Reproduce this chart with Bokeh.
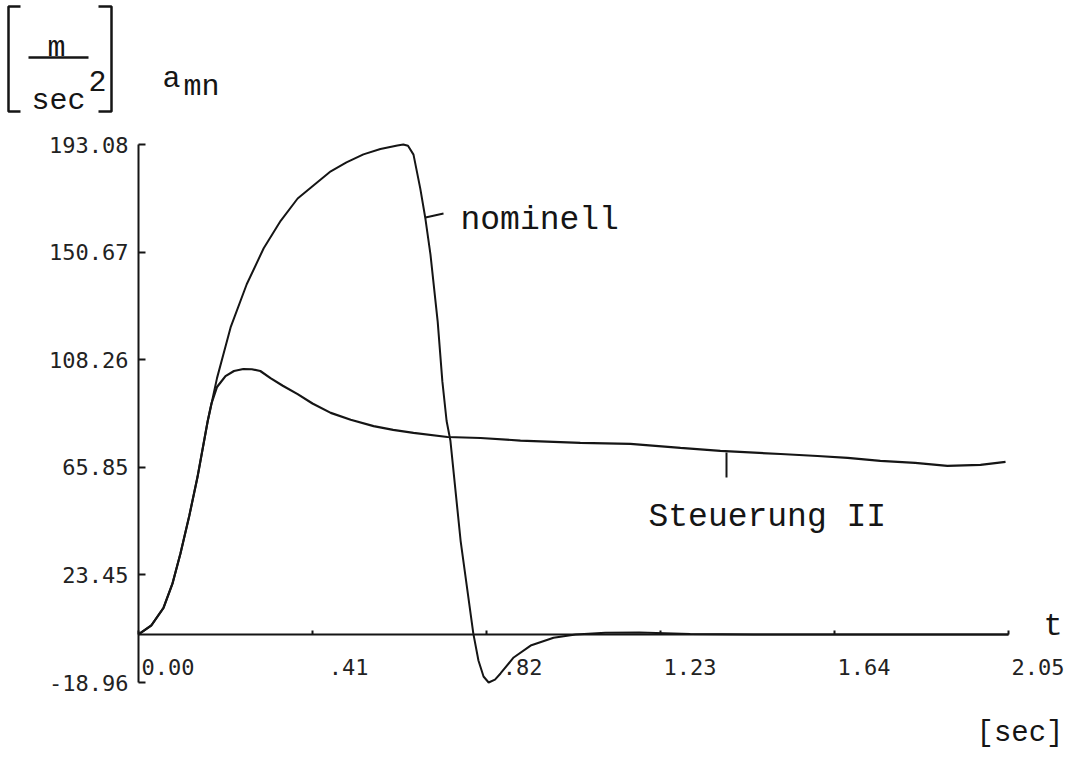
from bokeh.plotting import figure
from bokeh.models import Range1d, FixedTicker, Label, PrintfTickFormatter
from bokeh.embed import file_html
from bokeh.resources import INLINE

# ---------------- data ----------------
t_nom = [0.0, 0.03, 0.059, 0.08, 0.099, 0.12, 0.139, 0.163, 0.185, 0.205,
         0.217, 0.255, 0.295, 0.335, 0.375, 0.415, 0.453, 0.49, 0.53, 0.57,
         0.61, 0.624, 0.635, 0.648, 0.664, 0.676, 0.688, 0.705, 0.716, 0.726,
         0.735, 0.759, 0.789, 0.801, 0.813, 0.825, 0.84, 0.853, 0.884, 0.924,
         0.978, 1.03, 1.10, 1.18, 1.30, 1.45, 2.05]
a_nom = [0.0, 3.5, 10.5, 20.0, 32.0, 47.0, 62.0, 84.0, 101.0, 113.5,
         121.0, 138.0, 152.2, 163.0, 171.8, 177.3, 182.5, 186.0, 189.2, 191.3,
         192.7, 193.08, 192.6, 189.1, 175.7, 163.9, 149.7, 123.3, 99.7, 84.1,
         76.3, 36.9, 0.3, -10.3, -16.6, -18.96, -17.8, -15.4, -9.1, -4.4,
         -1.3, 0.0, 0.6, 0.7, 0.2, 0.0, 0.0]

t_st = [0.0, 0.03, 0.059, 0.08, 0.099, 0.12, 0.139, 0.163, 0.172, 0.185,
        0.205, 0.225, 0.247, 0.267, 0.287, 0.311, 0.34, 0.375, 0.41, 0.453,
        0.50, 0.554, 0.60, 0.648, 0.728, 0.806, 0.90, 1.041, 1.159, 1.277,
        1.371, 1.513, 1.60, 1.671, 1.748, 1.83, 1.906, 1.984, 2.043]
a_st = [0.0, 3.5, 10.5, 20.0, 32.0, 47.0, 62.0, 84.0, 91.0, 97.5,
        101.8, 103.8, 104.6, 104.5, 103.8, 101.0, 98.0, 94.7, 91.0, 87.3,
        84.6, 82.1, 80.6, 79.4, 77.8, 77.4, 76.4, 75.5, 75.1, 73.5,
        72.3, 71.1, 70.3, 69.6, 68.4, 67.6, 66.4, 66.8, 68.0]

x_ticks = [0.0, 0.41, 0.82, 1.23, 1.64, 2.05]
x_tick_labels = ["0.00", ".41", ".82", "1.23", "1.64", "2.05"]
y_ticks = [-18.96, 23.45, 65.85, 108.26, 150.67, 193.08]

X0, X1 = 0.0, 2.05
Y0, Y1 = -18.96, 193.08

# ---------------- layout (pixels) ----------------
W, H = 1080, 757
AX_L, AX_R, AX_T, AX_B = 138, 1008, 144, 682   # where the axes' ends sit
sx = (AX_R - AX_L) / (X1 - X0)
sy = (AX_B - AX_T) / (Y1 - Y0)


def dx(px):
    """pixel x -> data x"""
    return X0 + (px - AX_L) / sx


def dy(py):
    """pixel y -> data y"""
    return Y0 + (AX_B - py) / sy


INK = "#151515"
TYPE_FONT = "Liberation Mono"
TICK_FONT = "DejaVu Sans Mono"

p = figure(width=W, height=H,
           x_range=Range1d(dx(0), dx(W)), y_range=Range1d(dy(H), dy(0)),
           output_backend="svg", toolbar_location=None, min_border=0)
p.outline_line_color = None
p.grid.visible = False
p.background_fill_color = "white"
p.border_fill_color = "white"

# y axis at t = 0
ya = p.yaxis[0]
ya.fixed_location = 0
ya.bounds = (Y0, Y1)
ya.ticker = FixedTicker(ticks=y_ticks)
ya.formatter = PrintfTickFormatter(format="%.2f")
ya.axis_line_width = 2
ya.axis_line_color = INK
ya.major_tick_in = 7
ya.major_tick_out = 0
ya.major_tick_line_width = 2
ya.major_tick_line_color = INK
ya.minor_tick_line_color = None
ya.major_label_standoff = 10
ya.major_label_text_font = TICK_FONT
ya.major_label_text_font_size = "22px"
ya.major_label_text_color = "#222222"

# x axis at a = 0
xa = p.xaxis[0]
xa.fixed_location = 0
xa.bounds = (X0, X1)
xa.ticker = FixedTicker(ticks=x_ticks)
xa.axis_line_width = 2
xa.axis_line_color = INK
xa.major_tick_in = 4
xa.major_tick_out = 0
xa.major_tick_line_width = 2
xa.major_tick_line_color = INK
xa.minor_tick_line_color = None
xa.major_label_text_color = None

# curves
p.line(t_nom, a_nom, line_color=INK, line_width=2)
p.line(t_st, a_st, line_color=INK, line_width=2.2)

# x tick labels: left-aligned in a 4-character slot starting at the tick
CHAR_W = 13.3
for xv, s in zip(x_ticks, x_tick_labels):
    p.add_layout(Label(x=xv, y=dy(666), text=s, x_offset=3 + (4 - len(s)) * CHAR_W,
                       text_font=TICK_FONT, text_font_size="22px",
                       text_color="#222222", text_align="left",
                       text_baseline="middle"))

# leader lines of the curve labels (pixels)
lead_x0 = [425, 726]
lead_y0 = [217, 452]
lead_x1 = [443, 726]
lead_y1 = [213, 477]
p.segment([dx(v) for v in lead_x0], [dy(v) for v in lead_y0],
          [dx(v) for v in lead_x1], [dy(v) for v in lead_y1],
          line_color=INK, line_width=2)

# typed texts: (text, left px, baseline px, size)
typed = [("nominell", 460, 220, "33px"),
         ("Steuerung II", 648, 517, "33px"),
         ("t", 1043, 626, "32px"),
         ("[sec]", 976, 733, "29px"),
         ("m", 47, 47, "30px"),
         ("sec", 31, 100, "30px"),
         ("2", 88, 80, "30px"),
         ("a", 162, 78, "30px"),
         ("mn", 183, 86, "30px")]
for s, lx, by, fs in typed:
    p.add_layout(Label(x=dx(lx), y=dy(by), text=s, text_font=TYPE_FONT,
                       text_font_size=fs, text_color=INK, text_align="left",
                       text_baseline="alphabetic"))

# big brackets and fraction bar of the unit (pixels)
brk_l_x = [20, 8, 8, 20]
brk_l_y = [6, 6, 111, 111]
brk_r_x = [98, 111, 111, 98]
brk_r_y = [6, 6, 111, 111]
bar_x = [28, 88]
bar_y = [57, 57]
for xs, ys in ((brk_l_x, brk_l_y), (brk_r_x, brk_r_y), (bar_x, bar_y)):
    p.line([dx(v) for v in xs], [dy(v) for v in ys], line_color=INK,
           line_width=2.5)

open("out.html", "w").write(file_html(p, INLINE))
